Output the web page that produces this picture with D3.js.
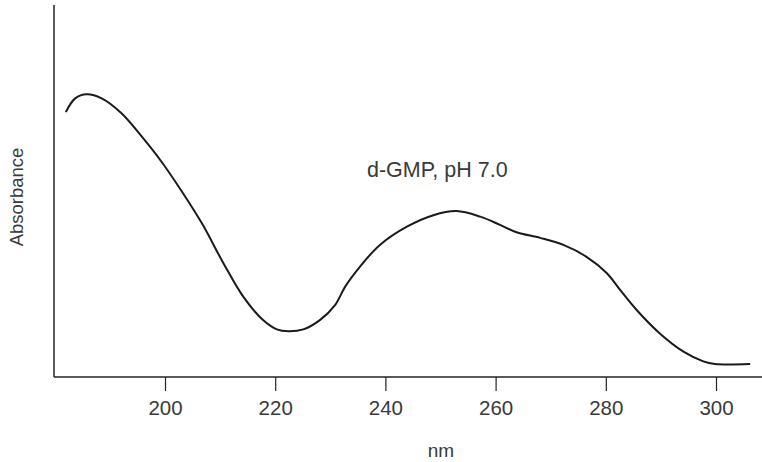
<!DOCTYPE html>
<html>
<head>
<meta charset="utf-8">
<script src="https://cdn.jsdelivr.net/npm/d3@7"></script>
<style>
  html, body { margin: 0; padding: 0; background: #fff; }
  svg { display: block; }
  text { font-family: "Liberation Sans", Arial, sans-serif; fill: #3a3a3a; }
</style>
</head>
<body>
<svg id="chart" width="762" height="462"></svg>
<script>
// Wavelength (nm) and absorbance (arbitrary units)
const wavelengths = [182.0, 183.7, 185.8, 188.5, 192.1, 195.8, 199.4, 203.0, 206.7, 210.6, 214.2, 217.8, 220.3, 222.4, 225.1, 228.1, 230.9, 232.7, 235.4, 239.0, 243.9, 248.7, 252.9, 257.2, 260.8, 263.8, 268.1, 272.3, 276.5, 280.2, 282.6, 285.6, 289.8, 294.1, 297.7, 299.8, 306.2];
const absorbance  = [0.712, 0.749, 0.760, 0.749, 0.709, 0.646, 0.578, 0.500, 0.413, 0.306, 0.216, 0.153, 0.128, 0.123, 0.128, 0.153, 0.194, 0.243, 0.297, 0.355, 0.404, 0.435, 0.446, 0.431, 0.409, 0.389, 0.374, 0.355, 0.323, 0.279, 0.234, 0.180, 0.117, 0.068, 0.042, 0.035, 0.035];
const xTicks = [200, 220, 240, 260, 280, 300];
const xLabel = "nm";
const yLabel = "Absorbance";
const annotation = "d-GMP, pH 7.0";

const svg = d3.select("#chart");
const x0 = 54, yBase = 377, yTop = 5;
const x = d3.scaleLinear().domain([200, 300]).range([165, 716]);
const y = d3.scaleLinear().domain([0, 1]).range([yBase, yTop]);

// y axis line
svg.append("line").attr("x1", x0).attr("x2", x0).attr("y1", yTop).attr("y2", yBase)
  .attr("stroke", "#222").attr("stroke-width", 1.5);

// x axis
const xAxis = d3.axisBottom(x).tickValues(xTicks).tickSize(14).tickPadding(9).tickFormat(d3.format("d"));
const gx = svg.append("g").attr("transform", `translate(0,${yBase})`).call(xAxis);
gx.select(".domain").remove();
gx.selectAll(".tick line").attr("stroke", "#222").attr("stroke-width", 1.2);
gx.selectAll(".tick text").attr("font-size", 20.5).style("fill", "#3a3a3a")
  .attr("font-family", "Liberation Sans, Arial, sans-serif");
svg.append("line").attr("x1", x0).attr("x2", 762).attr("y1", yBase).attr("y2", yBase)
  .attr("stroke", "#222").attr("stroke-width", 1.5);

// curve
const line = d3.line().x((d, i) => x(wavelengths[i])).y(d => y(d)).curve(d3.curveCatmullRom.alpha(0.5));
svg.append("path").datum(absorbance).attr("d", line)
  .attr("fill", "none").attr("stroke", "#1a1a1a").attr("stroke-width", 2);

// labels
svg.append("text").attr("x", 441).attr("y", 457).attr("text-anchor", "middle")
  .attr("font-size", 19).text(xLabel);
svg.append("text").attr("transform", "translate(23,197) rotate(-90)").attr("text-anchor", "middle")
  .attr("font-size", 18.5).text(yLabel);
svg.append("text").attr("x", 367).attr("y", 177).attr("font-size", 21.5).text(annotation);
</script>
</body>
</html>
